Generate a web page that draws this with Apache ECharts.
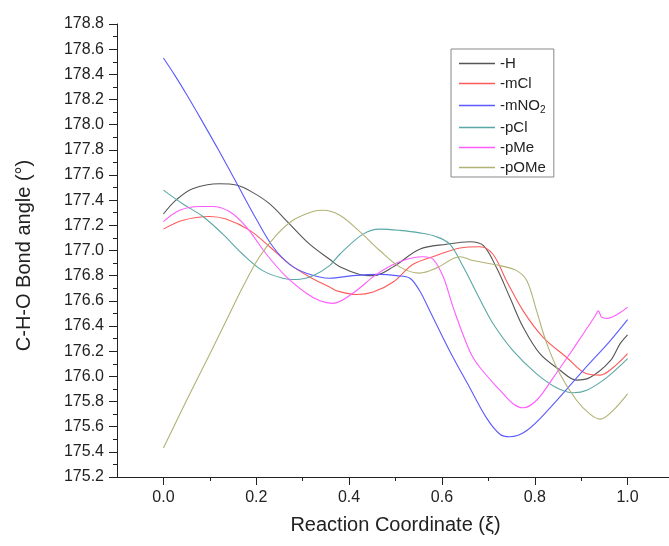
<!DOCTYPE html>
<html>
<head>
<meta charset="utf-8">
<script src="https://cdn.jsdelivr.net/npm/echarts@6/dist/echarts.min.js"></script>
<style>
html, body { margin: 0; padding: 0; background: #fff; }
#chart { width: 669px; height: 546px; }
</style>
</head>
<body>
<div id="chart"></div>
<script>
// Bond angle along the reaction coordinate for each substituent
const seriesNames = ['-H', '-mCl', '-mNO2', '-pCl', '-pMe', '-pOMe'];

const dataH = [[0,177.29],[0.027,177.40],[0.063,177.49],[0.121,177.53],[0.157,177.52],[0.193,177.46],[0.229,177.37],[0.272,177.21],[0.315,177.05],[0.358,176.93],[0.38,176.87],[0.423,176.81],[0.452,176.80],[0.495,176.87],[0.552,177.01],[0.61,177.05],[0.66,177.07],[0.689,177.04],[0.718,176.86],[0.746,176.63],[0.775,176.39],[0.811,176.18],[0.854,176.05],[0.89,175.97],[0.919,175.99],[0.962,176.12],[0.984,176.26],[1.0,176.33]];
const dataMCl = [[0,177.17],[0.042,177.24],[0.099,177.27],[0.135,177.25],[0.186,177.16],[0.229,177.03],[0.272,176.89],[0.315,176.79],[0.358,176.71],[0.373,176.68],[0.416,176.65],[0.452,176.67],[0.495,176.75],[0.538,176.89],[0.588,176.96],[0.639,177.02],[0.682,177.03],[0.71,176.97],[0.739,176.76],[0.775,176.52],[0.818,176.31],[0.869,176.15],[0.912,176.02],[0.941,176.01],[0.969,176.07],[1.0,176.18]];
const dataMNO2 = [[0,178.53],[0.025,178.39],[0.05,178.24],[0.08,178.05],[0.12,177.79],[0.16,177.52],[0.2,177.25],[0.236,177.03],[0.272,176.89],[0.308,176.82],[0.358,176.78],[0.408,176.80],[0.466,176.81],[0.502,176.80],[0.531,176.78],[0.552,176.68],[0.574,176.52],[0.617,176.20],[0.66,175.91],[0.696,175.67],[0.725,175.54],[0.746,175.52],[0.783,175.57],[0.833,175.75],[0.905,176.05],[0.962,176.28],[1.0,176.45]];
const dataPCl = [[0,177.48],[0.042,177.37],[0.085,177.27],[0.128,177.13],[0.171,176.97],[0.214,176.84],[0.257,176.78],[0.286,176.77],[0.322,176.80],[0.358,176.88],[0.38,176.97],[0.43,177.13],[0.466,177.17],[0.509,177.16],[0.552,177.14],[0.588,177.11],[0.617,177.05],[0.646,176.87],[0.682,176.61],[0.71,176.42],[0.754,176.20],[0.804,176.02],[0.847,175.91],[0.883,175.87],[0.912,175.89],[0.955,175.99],[1.0,176.14]];
const dataPMe = [[0,177.23],[0.035,177.32],[0.078,177.35],[0.106,177.35],[0.142,177.31],[0.178,177.19],[0.222,176.97],[0.265,176.79],[0.308,176.66],[0.337,176.60],[0.365,176.58],[0.408,176.66],[0.459,176.81],[0.509,176.91],[0.559,176.95],[0.581,176.93],[0.603,176.79],[0.624,176.55],[0.66,176.20],[0.682,176.07],[0.725,175.89],[0.754,175.78],[0.775,175.75],[0.804,175.81],[0.84,175.99],[0.872,176.16],[0.905,176.34],[0.93,176.48],[0.937,176.52],[0.944,176.47],[0.955,176.46],[1.0,176.55]];
const dataPOMe = [[0,175.43],[0.05,175.81],[0.103,176.20],[0.135,176.44],[0.171,176.71],[0.207,176.95],[0.243,177.12],[0.279,177.24],[0.322,177.31],[0.344,177.32],[0.38,177.28],[0.423,177.15],[0.466,177.00],[0.509,176.87],[0.552,176.82],[0.588,176.86],[0.639,176.95],[0.667,176.92],[0.725,176.88],[0.761,176.84],[0.783,176.76],[0.804,176.52],[0.826,176.26],[0.854,176.02],[0.89,175.81],[0.919,175.70],[0.941,175.66],[0.969,175.73],[1.0,175.86]];

const xMajorTicks = [0.0, 0.2, 0.4, 0.6, 0.8, 1.0];
const xMinorTicks = [0.1, 0.3, 0.5, 0.7, 0.9];

const seriesData = [dataH, dataMCl, dataMNO2, dataPCl, dataPMe, dataPOMe];
const seriesColors = ['#555555', '#ff5a5a', '#5a5aff', '#5aa8a6', '#ff5cff', '#b2b276'];

const FONT = '"Liberation Sans", Arial, sans-serif';
const INK = '#222';

const chart = echarts.init(document.getElementById('chart'), null, { renderer: 'canvas' });

const xBase = {
  type: 'value', min: -0.1, max: 1.1, position: 'bottom', gridIndex: 0,
  splitLine: { show: false }
};

chart.setOption({
  animation: false,
  backgroundColor: '#fff',
  textStyle: { fontFamily: FONT },
  grid: { left: 117, top: 24, right: -5, bottom: 69, containLabel: false, outerBoundsMode: 'none' },
  legend: {
    orient: 'vertical',
    left: 451, top: 49,
    padding: [7, 8, 2, 8],
    itemGap: 5,
    itemWidth: 36, itemHeight: 1.5,
    icon: 'rect',
    borderColor: '#888', borderWidth: 1,
    data: seriesNames,
    formatter: function (name) {
      return name === '-mNO2' ? '{t|-mNO}{s|2}' : '{t|' + name + '}';
    },
    textStyle: {
      fontFamily: FONT, color: INK, fontSize: 15,
      rich: {
        t: { fontSize: 15, lineHeight: 15, fontFamily: FONT, color: INK },
        s: { fontSize: 10, lineHeight: 10, padding: [9, 0, 0, 0], fontFamily: FONT, color: INK }
      }
    }
  },
  xAxis: [
    Object.assign({}, xBase, {
      axisLine: { show: true, onZero: false, lineStyle: { color: INK, width: 1 } },
      axisTick: { show: true, customValues: xMajorTicks, length: 8, inside: false, lineStyle: { color: INK } },
      axisLabel: {
        customValues: xMajorTicks, margin: 13, fontSize: 16, color: INK, fontFamily: FONT,
        formatter: function (v) { return v.toFixed(1); }
      },
      name: 'Reaction Coordinate (ξ)',
      nameLocation: 'middle', nameGap: 38,
      nameTextStyle: { fontSize: 20, color: INK, fontFamily: FONT }
    }),
    Object.assign({}, xBase, {
      axisLine: { show: false, onZero: false },
      axisTick: { show: true, customValues: xMinorTicks, length: 4, inside: false, lineStyle: { color: INK } },
      axisLabel: { show: false }
    })
  ],
  yAxis: {
    type: 'value', min: 175.2, max: 178.8, interval: 0.2,
    axisLine: { show: true, onZero: false, lineStyle: { color: INK, width: 1 } },
    axisTick: { show: true, length: 8, inside: false, lineStyle: { color: INK } },
    minorTick: { show: true, splitNumber: 2, length: 4, lineStyle: { color: INK } },
    splitLine: { show: false },
    minorSplitLine: { show: false },
    axisLabel: {
      margin: 13, fontSize: 16, color: INK, fontFamily: FONT,
      formatter: function (v) { return v.toFixed(1); }
    },
    name: 'C-H-O Bond angle (°)',
    nameLocation: 'middle', nameGap: 83, nameRotate: 90,
    nameTextStyle: { fontSize: 20, color: INK, fontFamily: FONT, padding: [0, 10, 0, 0] }
  },
  series: seriesNames.map(function (name, i) {
    return {
      name: name,
      type: 'line',
      xAxisIndex: 0,
      data: seriesData[i],
      smooth: 0.35,
      showSymbol: false,
      symbol: 'none',
      color: seriesColors[i],
      lineStyle: { color: seriesColors[i], width: 1.1 },
      emphasis: { disabled: true }
    };
  })
});
</script>
</body>
</html>
